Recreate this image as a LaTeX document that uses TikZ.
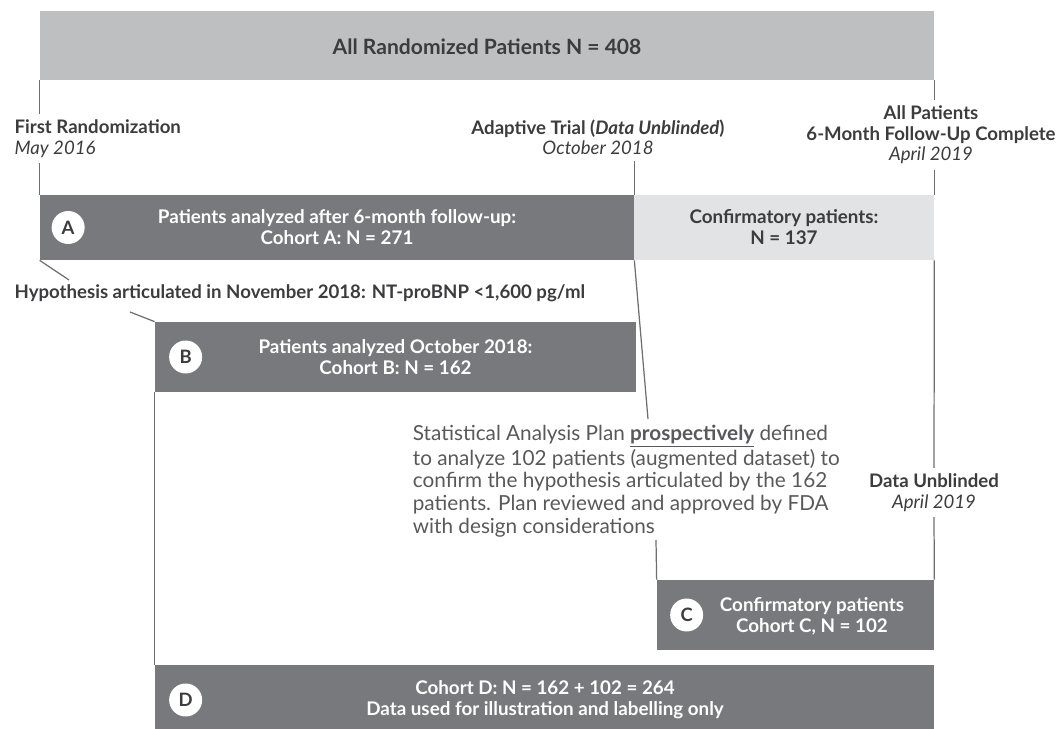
\documentclass[tikz,border=0pt]{standalone}
\usepackage{fontspec}
\setmainfont{Lato}
\usetikzlibrary{fit,positioning}

\definecolor{barfill}{RGB}{190,191,193}
\definecolor{cohortfill}{RGB}{120,121,125}
\definecolor{confirmfill}{RGB}{226,227,229}
\definecolor{inkgray}{RGB}{60,60,62}
\definecolor{linegray}{RGB}{110,110,113}

\begin{document}
\begin{tikzpicture}[x=0.02cm, y=-0.02cm,
    barbox/.style={rectangle, fill=barfill, inner sep=0pt},
    cohortbox/.style={rectangle, fill=cohortfill, inner sep=0pt},
    confirmbox/.style={rectangle, fill=confirmfill, inner sep=0pt},
    cohorttext/.style={align=center, inner sep=0pt, text=white,
      font=\bfseries\fontsize{10.7}{12}\selectfont},
    confirmtext/.style={cohorttext, text=inkgray},
    letterdot/.style={circle, fill=white, minimum size=0.66cm, inner sep=0pt,
      text=inkgray, font=\bfseries\fontsize{10.5}{12}\selectfont},
    milestone/.style={align=center, inner sep=3pt, text=inkgray,
      font=\bfseries\fontsize{10.6}{11.8}\selectfont},
    timeline/.style={draw=linegray, line width=0.7pt}]

  \useasboundingbox (0,0) rectangle (1059,729);

  % top bar
  \node[barbox, fit={(40,11) (934,80)}] (bar) {};
  \node[confirmtext, font=\bfseries\fontsize{12}{14}\selectfont] (barText)
    at ([yshift=-0.03cm]bar.center) {All Randomized Patients N = 408};

  % milestones
  \node[milestone, align=left, anchor=north west] (firstR) at (9,114)
    {First Randomization\\{\mdseries\itshape May 2016}};
  \node[milestone, anchor=north] (adapt) at (598,114)
    {Adaptive Trial ({\itshape Data Unblinded})\\{\mdseries\itshape October 2018}};
  \node[milestone, anchor=north] (allP) at (931,100)
    {All Patients\\6-Month Follow-Up Complete\\{\mdseries\itshape April 2019}};
  \node[milestone, anchor=north] (dataU) at (934,468)
    {Data Unblinded\\{\mdseries\itshape April 2019}};

  % cohorts
  \node[cohortbox, fit={(40,195) (634,260)}] (boxA) {};
  \node[cohorttext] (textA) at (boxA.center)
    {Patients analyzed after 6-month follow-up:\\Cohort A: N = 271};
  \node[confirmbox, fit={(634,195) (934,260)}] (confirm) {};
  \node[confirmtext] (textConf) at (confirm.center)
    {Confirmatory patients:\\N = 137};

  \node[milestone, anchor=west] (hyp) at (9,293)
    {Hypothesis articulated in November 2018: NT-proBNP <1,600 pg/ml};

  \node[cohortbox, fit={(155,322) (636,392)}] (boxB) {};
  \node[cohorttext] (textB) at (boxB.center)
    {Patients analyzed October 2018:\\Cohort B: N = 162};

  \node[anchor=north west, align=left, inner sep=2pt, text=inkgray!85,
    font=\fontsize{11.8}{13}\selectfont] (sap) at (409,421)
    {Statistical Analysis Plan \textbf{\underline{prospectively}} defined\\
     to analyze 102 patients (augmented dataset) to\\
     confirm the hypothesis articulated by the 162\\
     patients. Plan reviewed and approved by FDA\\
     with design considerations};

  \node[cohortbox, fit={(657,580) (934,650)}] (boxC) {};
  \node[cohorttext] (textC) at (812,616)
    {Confirmatory patients\\Cohort C, N = 102};

  \node[cohortbox, fit={(155,665) (934,729)}] (boxD) {};
  \node[cohorttext] (textD) at (545,700)
    {Cohort D: N = 162 + 102 = 264\\Data used for illustration and labelling only};

  \node[letterdot] (dotA) at ([xshift=0.57cm]boxA.west) {A};
  \node[letterdot] (dotB) at ([xshift=0.62cm]boxB.west) {B};
  \node[letterdot] (dotC) at ([xshift=0.6cm]boxC.west) {C};
  \node[letterdot] (dotD) at ([xshift=0.62cm,yshift=-0.06cm]boxD.west) {D};

  \coordinate (hypIn) at (69,280);
  \coordinate (hypOut) at (130,312);
  \coordinate (sapIn) at (648,419);
  \coordinate (sapOut) at (656,540);

  % connectors
  \draw[timeline] (bar.south west) -- (bar.south west |- firstR.north);
  \draw[timeline] (firstR.south -| bar.south west) -- (boxA.north west);
  \draw[timeline] (bar.south east) -- (bar.south east |- allP.north);
  \draw[timeline] (allP.south -| bar.south east) -- (confirm.north east);
  \draw[timeline] (adapt.south -| boxA.north east) -- (boxA.north east);
  \draw[timeline] (boxA.south east) -- (sapIn);
  \draw[timeline] (sapOut) -- (boxC.north west);
  \draw[timeline] (confirm.south east) -- (dataU.north);
  \draw[timeline] (dataU.south) -- (boxC.north east);
  \draw[timeline] (boxA.south west) -- (hypIn);
  \draw[timeline] (hypOut) -- (boxB.north west);
  \draw[timeline] (boxB.south west) -- (boxD.north west);

\end{tikzpicture}
\end{document}
